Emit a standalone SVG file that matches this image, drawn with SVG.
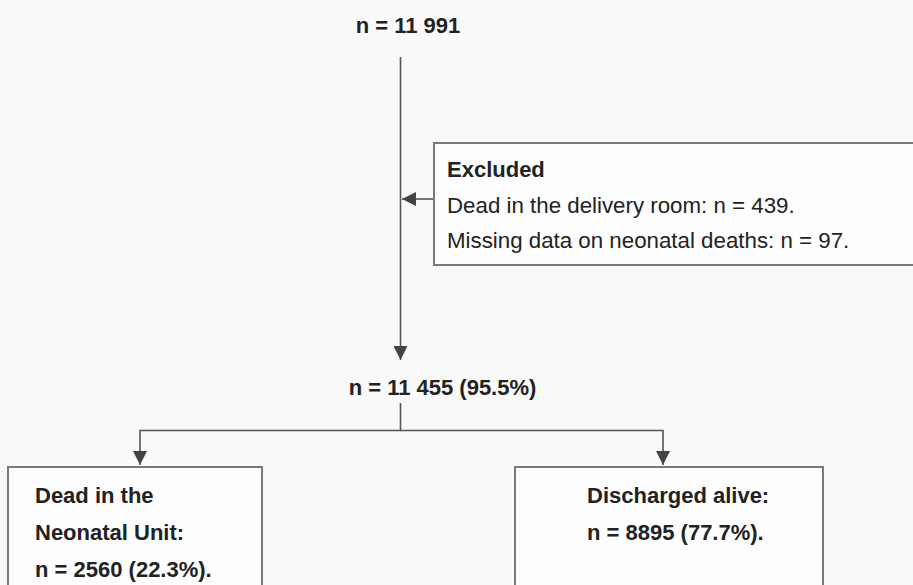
<svg xmlns="http://www.w3.org/2000/svg" width="913" height="585" viewBox="0 0 913 585">
  <style>
    .bg { fill: #f9f9f9; }
    .box { fill: #fdfdfd; stroke: #7a7a7a; stroke-width: 2; }
    .line { fill: none; stroke: #555555; stroke-width: 1.6; }
    .t { font-family: "Liberation Sans", Arial, sans-serif; fill: #222222; }
    .b { font-weight: bold; font-size: 22px; }
    .r { font-size: 22.3px; }
  </style>
  <defs>
    <marker id="arr" markerUnits="userSpaceOnUse" markerWidth="16" markerHeight="14" refX="14" refY="7" orient="auto">
      <path d="M0,0 L14,7 L0,14 Z" fill="#444444"/>
    </marker>
  </defs>
  <rect class="bg" x="0" y="0" width="913" height="585"/>

  <g id="connectors">
    <path class="line" d="M400.5,57 V360" marker-end="url(#arr)"/>
    <path class="line" d="M434,199 H402" marker-end="url(#arr)"/>
    <path class="line" d="M400.5,403 V430.5 H140 V465" marker-end="url(#arr)"/>
    <path class="line" d="M400.5,430.5 H663 V465" marker-end="url(#arr)"/>
  </g>

  <g id="n-total">
    <text class="t b" x="408" y="33" text-anchor="middle">n = 11 991</text>
  </g>

  <g id="excluded">
    <rect class="box" x="434" y="143" width="490" height="122"/>
    <text class="t b" x="447" y="177">Excluded</text>
    <text class="t r" x="447" y="213">Dead in the delivery room: n = 439.</text>
    <text class="t r" x="447" y="248">Missing data on neonatal deaths: n = 97.</text>
  </g>

  <g id="n-included">
    <text class="t b" x="442.5" y="395" text-anchor="middle">n = 11 455 (95.5%)</text>
  </g>

  <g id="dead-nicu">
    <rect class="box" x="8" y="467" width="254" height="130"/>
    <text class="t b" x="35" y="503">Dead in the</text>
    <text class="t b" x="35" y="540">Neonatal Unit:</text>
    <text class="t b" x="35" y="577">n = 2560 (22.3%).</text>
  </g>

  <g id="discharged">
    <rect class="box" x="515" y="467" width="308" height="130"/>
    <text class="t b" x="587" y="503">Discharged alive:</text>
    <text class="t b" x="587" y="540">n = 8895 (77.7%).</text>
  </g>
</svg>
